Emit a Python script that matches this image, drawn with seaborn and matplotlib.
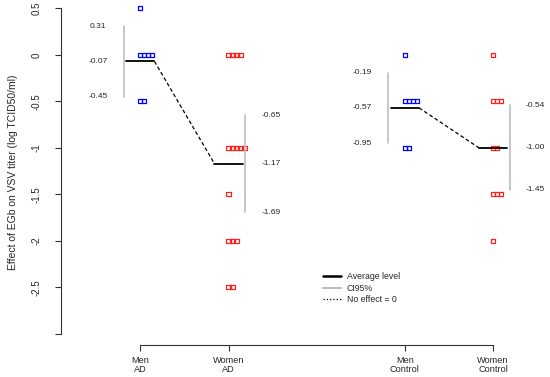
import numpy as np
import pandas as pd
import matplotlib
matplotlib.use("Agg")
import matplotlib.pyplot as plt
from matplotlib.lines import Line2D
import seaborn as sns

# groups shown on the x axis
groups = ["Men\nAD", "Women\nAD", "Men\nControl", "Women\nControl"]
sexes = ["Men", "Women", "Men", "Women"]

# individual observations (log TCID50/ml)
men_ad = [0.5, 0, 0, 0, 0, -0.5, -0.5]
women_ad = [0, 0, 0, 0, -1, -1, -1, -1, -1, -1.5, -2, -2, -2, -2.5, -2.5]
men_control = [0, -0.5, -0.5, -0.5, -0.5, -1, -1]
women_control = [0, -0.5, -0.5, -0.5, -1, -1, -1.5, -1.5, -1.5, -2]

# average level and 95% CI
means = [-0.07, -1.17, -0.57, -1.00]
ci_high = [0.31, -0.65, -0.19, -0.54]
ci_low = [-0.45, -1.69, -0.95, -1.45]

yticks = [0.5, 0, -0.5, -1, -1.5, -2, -2.5, -3]
ytick_labels = ["0.5", "0", "-0.5", "-1", "-1.5", "-2", "-2.5", ""]

# layout
xpos = [1, 2, 4, 5]
colors = {"Men": "#0000FF", "Women": "#FF2020"}
stack_step = 0.045

rows = []
for vals, sex, p in zip([men_ad, women_ad, men_control, women_control], sexes, xpos):
    d = pd.DataFrame({"value": vals})
    d["idx"] = d.groupby("value").cumcount()
    d["x"] = p + d["idx"] * stack_step
    d["sex"] = sex
    rows.append(d)
df = pd.concat(rows, ignore_index=True)

sns.set_style("ticks")
plt.rcParams["font.family"] = ["Liberation Sans", "DejaVu Sans"]

fig = plt.figure(figsize=(5.5, 3.77), dpi=100)
ax = fig.add_axes([61 / 550, 32 / 377, 485 / 550, 345 / 377])

for sex in ["Men", "Women"]:
    c = colors[sex]
    sns.scatterplot(data=df[df["sex"] == sex], x="x", y="value", marker="s", s=9,
                    color=c, facecolors="none", edgecolors=c, linewidth=0.9,
                    ax=ax, legend=False)
    ax.collections[-1].set_facecolor("none")
    ax.collections[-1].set_edgecolor(c)

for i, p in enumerate(xpos):
    side = -1 if sexes[i] == "Men" else 1
    ax.plot([p - 0.16, p + 0.16], [means[i], means[i]], color="black", lw=1.3)
    ax.plot([p + side * 0.19] * 2, [ci_low[i], ci_high[i]], color="#BEBEBE", lw=1.2)
    for v in [ci_high[i], means[i], ci_low[i]]:
        ax.text(p + side * 0.48, v, f"{v:.2f}", ha="center", va="center", fontsize=6.0)

for a, b in [(0, 1), (2, 3)]:
    ax.plot([xpos[a] + 0.16, xpos[b] - 0.16], [means[a], means[b]], color="black",
            lw=0.9, linestyle=(0, (3, 2)))

ax.set_xlim(0.1, 5.6)
ax.set_ylim(-3.12, 0.59)
ax.set_xticks(xpos, groups, fontsize=6.6, linespacing=1.05)
ax.set_yticks(yticks, ytick_labels, fontsize=7)
plt.setp(ax.get_yticklabels(), rotation=90, va="center")
ax.tick_params(axis="both", length=4, width=0.8, color="#333333")
ax.tick_params(axis="y", pad=10)
ax.tick_params(axis="x", pad=4)
ax.set_xlabel("")
ax.set_ylabel("Effect of EGb on VSV titer (log TCID50/ml)", fontsize=7.5, labelpad=10)

for s in ["top", "right"]:
    ax.spines[s].set_visible(False)
ax.spines["left"].set_bounds(-3, 0.5)
ax.spines["bottom"].set_bounds(1, 5)
for s in ["left", "bottom"]:
    ax.spines[s].set_color("#333333")
    ax.spines[s].set_linewidth(0.8)

handles = [Line2D([], [], color="black", lw=1.8),
           Line2D([], [], color="#BEBEBE", lw=1.5),
           Line2D([], [], color="black", lw=0.9, linestyle=":")]
ax.legend(handles, ["Average level", "CI95%", "No effect = 0"], loc="upper left",
          bbox_to_anchor=(323 / 550, 1 - 272 / 377), bbox_transform=fig.transFigure,
          frameon=False, fontsize=6.3, handlelength=2.0, handletextpad=0.7,
          labelspacing=0.3, borderpad=0, borderaxespad=0)

fig.savefig("out.png", dpi=100)
